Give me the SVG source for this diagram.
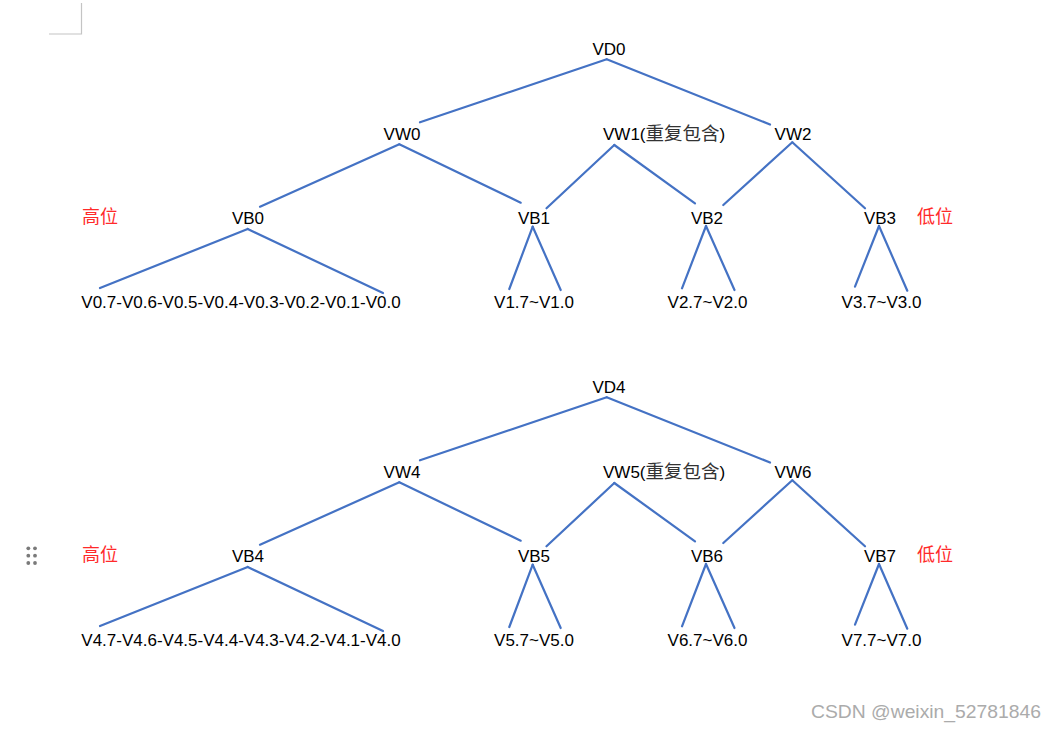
<svg xmlns="http://www.w3.org/2000/svg" width="1057" height="731" viewBox="0 0 1057 731">
<style>
.n{font-family:"Liberation Sans",Arial,"Noto Sans CJK SC",sans-serif;font-size:17px;fill:#000;text-anchor:middle}
.s{text-anchor:start}
.cjk{font-family:"Noto Sans CJK SC",sans-serif;font-size:18.5px;fill:#333}
.red{font-family:"Noto Sans CJK SC",sans-serif;font-size:18px;fill:#ff2a2a}
.e line{stroke:#4472c4;stroke-width:2.2;stroke-linecap:round}
.wm{font-family:"Liberation Sans",Arial,sans-serif;font-size:19px;fill:#ababab}
</style>
<rect width="1057" height="731" fill="#ffffff"/>
<g id="corner-mark" stroke="#c4c4c4" stroke-width="1.2" fill="none">
<polyline points="81.5,3 81.5,34 49,34"/>
</g>
<g id="handle" fill="#7a7a7a">
<circle cx="28.3" cy="548.3" r="1.9"/><circle cx="35" cy="548.3" r="1.9"/>
<circle cx="28.3" cy="555.7" r="1.9"/><circle cx="35" cy="555.7" r="1.9"/>
<circle cx="28.3" cy="563" r="1.9"/><circle cx="35" cy="563" r="1.9"/>
</g>
<g id="connectors" class="e">
<line x1="606.7" y1="59.3" x2="420" y2="122.3"/>
<line x1="606.7" y1="59.3" x2="770" y2="124.5"/>
<line x1="399.3" y1="144.3" x2="260" y2="206.7"/>
<line x1="399.3" y1="144.3" x2="520.7" y2="202.7"/>
<line x1="614.3" y1="145" x2="546.5" y2="208.3"/>
<line x1="614.3" y1="145" x2="695" y2="203.3"/>
<line x1="792.3" y1="142.3" x2="723.3" y2="205"/>
<line x1="792.3" y1="142.3" x2="865" y2="208.3"/>
<line x1="247.7" y1="229" x2="100" y2="288"/>
<line x1="247.7" y1="229" x2="383" y2="293"/>
<line x1="532.7" y1="226.7" x2="509.3" y2="289"/>
<line x1="532.7" y1="226.7" x2="560.7" y2="290"/>
<line x1="706" y1="226" x2="682" y2="288.3"/>
<line x1="706" y1="226" x2="734.5" y2="290"/>
<line x1="879" y1="226" x2="855" y2="286.7"/>
<line x1="879" y1="226" x2="907.3" y2="290.7"/>
<line x1="606.7" y1="397.3" x2="420" y2="460.3"/>
<line x1="606.7" y1="397.3" x2="770" y2="462.5"/>
<line x1="399.3" y1="482.3" x2="260" y2="544.7"/>
<line x1="399.3" y1="482.3" x2="520.7" y2="540.7"/>
<line x1="614.3" y1="483" x2="546.5" y2="546.3"/>
<line x1="614.3" y1="483" x2="695" y2="541.3"/>
<line x1="792.3" y1="480.3" x2="723.3" y2="543"/>
<line x1="792.3" y1="480.3" x2="865" y2="546.3"/>
<line x1="247.7" y1="567" x2="100" y2="626"/>
<line x1="247.7" y1="567" x2="383" y2="631"/>
<line x1="532.7" y1="564.7" x2="509.3" y2="627"/>
<line x1="532.7" y1="564.7" x2="560.7" y2="628"/>
<line x1="706" y1="564" x2="682" y2="626.3"/>
<line x1="706" y1="564" x2="734.5" y2="628"/>
<line x1="879" y1="564" x2="855" y2="624.7"/>
<line x1="879" y1="564" x2="907.3" y2="628.7"/>
</g>
<g id="VD0"><text class="n" x="609" y="55">VD0</text></g>
<g id="VW0"><text class="n" x="402" y="140">VW0</text></g>
<g id="VW1"><text class="n s" x="603" y="140">VW1(<tspan class="cjk">重复包含</tspan>)</text></g>
<g id="VW2"><text class="n" x="793" y="140">VW2</text></g>
<g id="VB0"><text class="n" x="248" y="224">VB0</text></g>
<g id="VB1"><text class="n" x="534" y="224">VB1</text></g>
<g id="VB2"><text class="n" x="707" y="224">VB2</text></g>
<g id="VB3"><text class="n" x="880" y="224">VB3</text></g>
<g id="L0"><text class="n" x="241" y="308">V0.7-V0.6-V0.5-V0.4-V0.3-V0.2-V0.1-V0.0</text></g>
<g id="L1"><text class="n" x="534" y="308">V1.7~V1.0</text></g>
<g id="L2"><text class="n" x="707.5" y="308">V2.7~V2.0</text></g>
<g id="L3"><text class="n" x="881.5" y="308">V3.7~V3.0</text></g>
<g id="high0"><text class="red" x="82" y="223">高位</text></g>
<g id="low0"><text class="red" x="917" y="223">低位</text></g>
<g id="VD4"><text class="n" x="609" y="393">VD4</text></g>
<g id="VW4"><text class="n" x="402" y="478">VW4</text></g>
<g id="VW5"><text class="n s" x="603" y="478">VW5(<tspan class="cjk">重复包含</tspan>)</text></g>
<g id="VW6"><text class="n" x="793" y="478">VW6</text></g>
<g id="VB4"><text class="n" x="248" y="562">VB4</text></g>
<g id="VB5"><text class="n" x="534" y="562">VB5</text></g>
<g id="VB6"><text class="n" x="707" y="562">VB6</text></g>
<g id="VB7"><text class="n" x="880" y="562">VB7</text></g>
<g id="L4"><text class="n" x="241" y="646">V4.7-V4.6-V4.5-V4.4-V4.3-V4.2-V4.1-V4.0</text></g>
<g id="L5"><text class="n" x="534" y="646">V5.7~V5.0</text></g>
<g id="L6"><text class="n" x="707.5" y="646">V6.7~V6.0</text></g>
<g id="L7"><text class="n" x="881.5" y="646">V7.7~V7.0</text></g>
<g id="high4"><text class="red" x="82" y="561">高位</text></g>
<g id="low4"><text class="red" x="917" y="561">低位</text></g>
<g id="watermark"><text class="wm" x="811" y="718" textLength="230" lengthAdjust="spacingAndGlyphs">CSDN @weixin_52781846</text></g>
</svg>
